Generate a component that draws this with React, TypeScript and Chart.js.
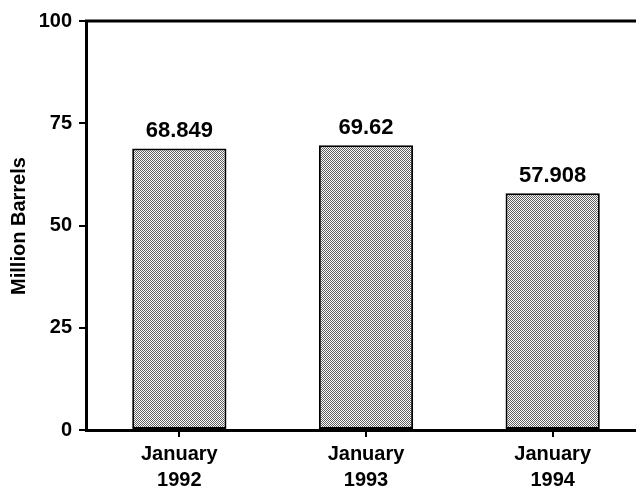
import React, { useEffect, useRef } from "react";
import { Chart, registerables } from "chart.js";
Chart.register(...registerables);

const categories = [["January", "1992"], ["January", "1993"], ["January", "1994"]];
const values = [68.849, 69.62, 57.908];
const valueLabels = ["68.849", "69.62", "57.908"];
const yTicks = [0, 25, 50, 75, 100];
const yTitle = "Million Barrels";

export default function App() {
  const ref = useRef<HTMLCanvasElement>(null);
  useEffect(() => {
    const canvas = ref.current!;
    const tile = document.createElement("canvas");
    tile.width = 2;
    tile.height = 2;
    const tctx = tile.getContext("2d")!;
    tctx.fillStyle = "#ffffff";
    tctx.fillRect(0, 0, 2, 2);
    tctx.fillStyle = "#5e5e5e";
    tctx.fillRect(0, 0, 1, 1);
    tctx.fillRect(1, 1, 1, 1);
    const pattern = canvas.getContext("2d")!.createPattern(tile, "repeat");
    const family = "'Liberation Sans', Arial, Helvetica, sans-serif";

    const extras = {
      id: "extras",
      afterDatasetsDraw(chart: any) {
        const ctx = chart.ctx;
        const area = chart.chartArea;
        ctx.save();
        // top frame line
        ctx.strokeStyle = "#000";
        ctx.lineWidth = 3;
        ctx.beginPath();
        ctx.moveTo(area.left - 1, area.top);
        ctx.lineTo(area.right + 10, area.top);
        ctx.stroke();
        // value labels
        ctx.fillStyle = "#000";
        ctx.font = `bold 22px ${family}`;
        ctx.textAlign = "center";
        ctx.textBaseline = "alphabetic";
        const meta = chart.getDatasetMeta(0);
        meta.data.forEach((bar: any, i: number) => {
          ctx.fillText(valueLabels[i], bar.x, bar.y - 11);
        });
        // y title
        ctx.translate(19, 226);
        ctx.rotate(-Math.PI / 2);
        ctx.font = `bold 20px ${family}`;
        ctx.textBaseline = "middle";
        ctx.fillText(yTitle, 0, 0);
        ctx.restore();
      },
    };

    const chart = new Chart(canvas, {
      type: "bar",
      data: {
        labels: categories as any,
        datasets: [
          {
            data: values,
            backgroundColor: pattern as any,
            borderColor: "#000",
            borderWidth: 2,
            borderSkipped: false,
            barPercentage: 0.505,
            categoryPercentage: 1,
          },
        ],
      },
      options: {
        responsive: false,
        animation: false,
        devicePixelRatio: 1,
        layout: { padding: { top: 21, left: 0, right: 0, bottom: 0 } },
        plugins: { legend: { display: false }, tooltip: { enabled: false } },
        scales: {
          x: {
            offset: true,
            grid: { drawOnChartArea: false, offset: false, color: "#000", tickLength: 7, lineWidth: 2 },
            border: { color: "#000", width: 3 },
            ticks: {
              color: "#000",
              font: { family, size: 20, weight: "bold", lineHeight: 1.3 },
              padding: 4,
              maxRotation: 0,
              autoSkip: false,
            },
            afterFit(s: any) {
              s.height = 62;
            },
          },
          y: {
            min: 0,
            max: 100,
            afterBuildTicks(s: any) {
              s.ticks = yTicks.map((v) => ({ value: v }));
            },
            grid: { drawOnChartArea: false, color: "#000", tickLength: 7, lineWidth: 2 },
            border: { color: "#000", width: 3 },
            ticks: {
              color: "#000",
              font: { family, size: 20, weight: "bold" },
              padding: 7,
            },
            afterFit(s: any) {
              s.width = 86;
            },
          },
        },
      },
      plugins: [extras],
    });
    return () => chart.destroy();
  }, []);
  return (
    <div style={{ position: "fixed", left: 0, top: 0, width: 636, height: 492, overflow: "hidden", background: "#fff" }}>
      <canvas ref={ref} width={646} height={492} style={{ display: "block" }} />
    </div>
  );
}
